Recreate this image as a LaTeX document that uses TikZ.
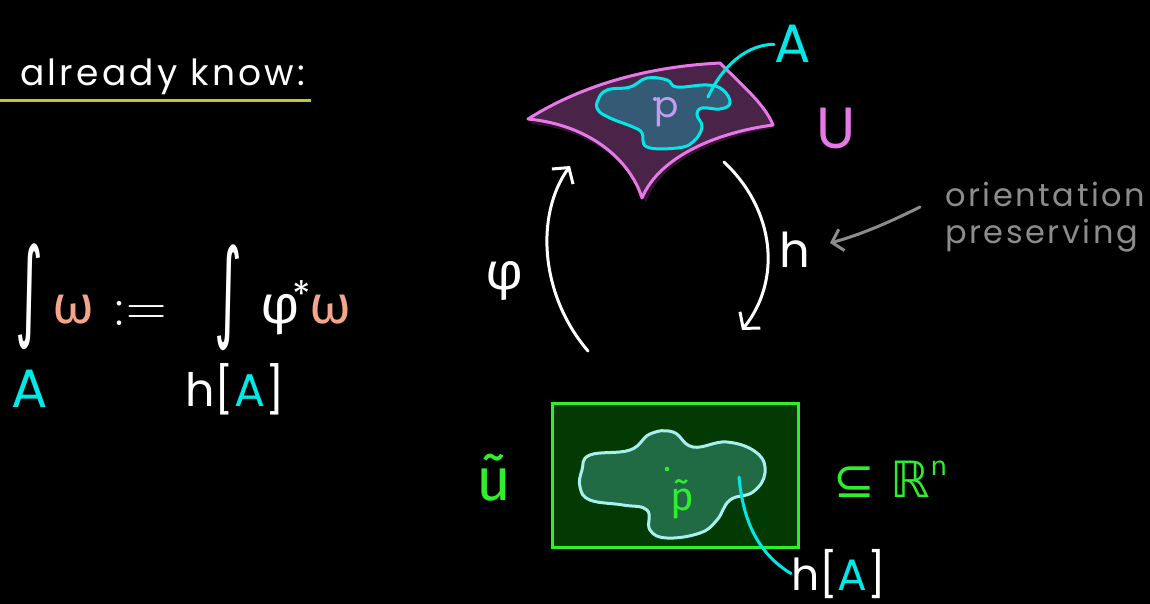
\RequirePackage{fix-cm}
\documentclass[tikz,border=0pt]{standalone}
\usepackage{graphicx}
\usepackage{fontspec}
\setmainfont{Poppins}
\newfontfamily\grkfont{Fira Sans}
\newfontfamily\djvfont{DejaVu Sans}
\usetikzlibrary{arrows.meta}
\definecolor{salmon}{HTML}{F4A58A}
\definecolor{cyanA}{HTML}{00E8E8}
\definecolor{pinkU}{HTML}{E878E8}
\definecolor{lav}{HTML}{C49CF0}
\definecolor{grn}{HTML}{2EEE2E}
\definecolor{greyT}{HTML}{8C8C8C}
\definecolor{olive}{HTML}{C8C43A}
\definecolor{purpfill}{HTML}{4A2448}
\definecolor{purpshadow}{HTML}{2E162C}
\definecolor{bluefill}{HTML}{355A75}
\definecolor{rectfill}{HTML}{033A03}
\definecolor{blobfill}{HTML}{206A44}
\definecolor{blobline}{HTML}{A8F0F0}
\newcommand{\bigintegral}{\resizebox*{28pt}{106pt}{\djvfont ∫}}
\tikzset{
  txt/.style={inner sep=0pt, text=white, font=\fontsize{#1}{#1}\selectfont},
  txt/.default=36,
  mapline/.style={draw=white, line width=3pt, line cap=round, line join=round, -{Straight Barb[length=11pt,width=26pt,line width=3pt]}},
  leader/.style={draw=cyanA, line width=3pt, line cap=round}
}
\begin{document}
\begin{tikzpicture}[x=1pt,y=-1pt]
\fill[black] (0,0) rectangle (1150,604);
\useasboundingbox (0,0) rectangle (1150,604);

% heading
\node[txt=36, anchor=base west] (head) at (20,86) {\addfontfeatures{LetterSpace=9}already know:};
\draw[olive, line width=3pt] (0,101) -- (311,101);

% formula
\node[txt=50] (int1) at (29,297) {\bigintegral};
\node[txt=54, text=salmon, anchor=base] (om1) at (74,323) {\grkfont ω};
\node[txt=56, anchor=base] (defeq) at (140,325) {$:=$};
\node[txt=50] (int2) at (228,298) {\bigintegral};
\node[txt=54, anchor=base] (phi) at (280,323) {\grkfont φ};
\node[txt=38, anchor=base] (star) at (302,308) {*};
\node[txt=54, text=salmon, anchor=base] (om2) at (331,323) {\grkfont ω};
\node[txt=54, text=cyanA, anchor=base] (A1) at (30,407) {A};
\node[txt=46, anchor=base] (hA1) at (235,406) {h[\textcolor{cyanA}{A}]};

% manifold U
\fill[purpshadow]
  (532,124) .. controls (590,130) and (630,162) .. (646,203)
  .. controls (660,160) and (720,137) .. (773,128) -- (773,125)
  .. controls (720,132) and (660,155) .. (642,198)
  .. controls (630,160) and (590,125) .. (528,119) -- cycle;
\filldraw[fill=purpfill, draw=pinkU, line width=3pt, line join=round]
  (528,119) .. controls (590,80) and (660,66) .. (720,63)
  .. controls (745,88) and (765,105) .. (773,125)
  .. controls (720,132) and (660,155) .. (642,198)
  .. controls (630,160) and (590,125) .. (528,119) -- cycle;
\filldraw[fill=bluefill, draw=cyanA, line width=3pt]
  plot[smooth cycle, tension=0.7] coordinates {
  (598,100) (607,90) (630,87) (647,78) (667,80) (677,87) (707,85) (723,90)
  (730,103) (720,109) (702,108) (697,115) (702,127) (693,142) (677,148)
  (647,147) (642,133) (633,127) (610,118) (598,110)};
\fill[lav] (655,99) circle (2pt);
\node[txt=36, text=lav, anchor=base] (p) at (667,118) {p};
\coordinate (Ain) at (708,97);
\node[txt=54, text=cyanA, anchor=base west] (Alab) at (774,63) {A};
\draw[leader] (Ain) .. controls (718,75) and (740,45) .. (Alab.west);
\node[txt=58, text=pinkU, anchor=base west] (Ulab) at (816,149) {U};

% arrows phi and h
\coordinate (phiS) at (588,351);
\coordinate (phiE) at (570,166);
\draw[mapline] (phiS) .. controls (540,295) and (535,215) .. (phiE);
\node[txt=52, anchor=base] (philab) at (505,289) {\grkfont φ};
\coordinate (hS) at (724,162);
\coordinate (hE) at (742,330);
\draw[mapline] (hS) .. controls (775,210) and (782,280) .. (hE);
\node[txt=48, anchor=base west] (hlab) at (779,267) {h};

% orientation preserving
\node[txt=32, text=greyT, anchor=base west] (orient) at (945,207) {\addfontfeatures{LetterSpace=8}orientation};
\node[txt=32, text=greyT, anchor=base west] (pres) at (945,243) {\addfontfeatures{LetterSpace=8}preserving};
\coordinate (gS) at (920,207);
\coordinate (gE) at (830,243);
\draw[greyT, line width=3pt, line cap=round, -{Straight Barb[length=10pt,width=22pt,line width=3pt]}]
  (gS) .. controls (890,222) and (860,235) .. (gE);

% chart domain
\node[draw=grn, fill=rectfill, line width=3pt, minimum width=246pt, minimum height=144pt, inner sep=0pt] (rect) at (675,475) {};
\filldraw[fill=blobfill, draw=blobline, line width=3pt]
  plot[smooth cycle, tension=0.7] coordinates {
  (582,470) (590,455) (630,450) (650,434) (673,432) (693,447) (727,442)
  (757,453) (765,473) (753,492) (730,500) (717,520) (700,533) (667,538)
  (650,530) (647,510) (623,505) (590,500) (580,487)};
\fill[grn] (667,469) circle (2.3pt);
\node[txt=40, text=grn, anchor=base] (pt) at (682,510) {\grkfont \~{p}};
\node[txt=60, text=grn, anchor=base] (Ut) at (494,500) {\grkfont ũ};
\node[txt=50, text=grn, anchor=base west] (Rn) at (833,497) {\djvfont ⊆ ℝ\raisebox{22pt}{\fontsize{26}{26}\selectfont n}};
\coordinate (hAin) at (739,477);
\node[txt=44, anchor=base west] (hA2) at (791,590) {h[\textcolor{cyanA}{A}]};
\draw[leader] (hAin) .. controls (742,510) and (752,550) .. (hA2.west);
\end{tikzpicture}
\end{document}
